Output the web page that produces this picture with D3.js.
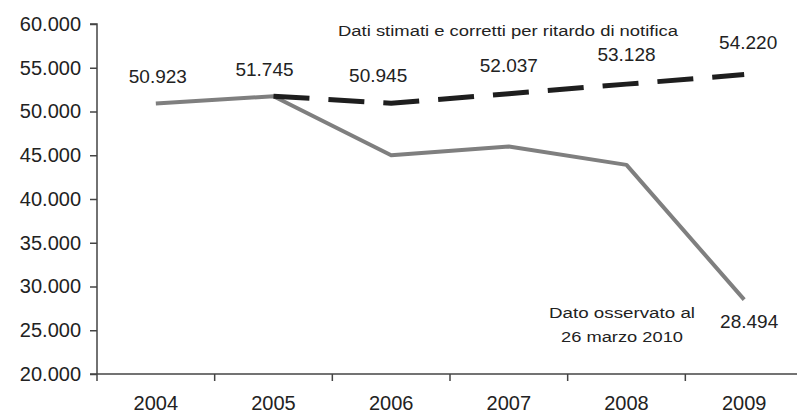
<!DOCTYPE html>
<html><head><meta charset="utf-8">
<script src="https://cdn.jsdelivr.net/npm/d3@7"></script>
<style>body{margin:0;background:#fff}svg{display:block}text{font-family:"Liberation Sans",Arial,sans-serif;fill:#222}</style>
</head><body><svg id="c" width="797" height="415"></svg>
<script>
const years = ["2004","2005","2006","2007","2008","2009"];
const observed = [50923, 51745, 45000, 46000, 43900, 28494];
const estimatedYears = ["2005","2006","2007","2008","2009"];
const estimated = [51745, 50945, 52037, 53128, 54220];
const labelValues = [50923, 51745, 50945, 52037, 53128, 54220];
const finalObservedLabel = 28494;
const yTicks = [20000,25000,30000,35000,40000,45000,50000,55000,60000];

const svg = d3.select("#c");
const x = d3.scaleBand().domain(years).range([97, 803]);
const y = d3.scaleLinear().domain([20000, 60000]).range([374, 24]);
const fmt = v => d3.format(",.0f")(v).replace(/,/g, ".");
const cx = d => x(d) + x.bandwidth()/2;

// y axis
const ya = svg.append("g").attr("transform","translate(97,0)")
  .call(d3.axisLeft(y).tickValues(yTicks).tickFormat(fmt).tickSize(7).tickPadding(9));
ya.select(".domain").attr("stroke","#444").attr("stroke-width",1.5).attr("d","M-7,24H0V374");
ya.selectAll(".tick line").attr("stroke","#444").attr("stroke-width",1.5);
ya.selectAll(".tick text").style("font-size","20px").attr("fill","#222");

// x axis
const xa = svg.append("g").attr("transform","translate(0,374)")
  .call(d3.axisBottom(x).tickSize(0).tickPadding(22));
xa.select(".domain").attr("stroke","#444").attr("stroke-width",1.5).attr("d","M90,0H797");
xa.selectAll(".tick text").style("font-size","20px").attr("fill","#222");
svg.append("g").selectAll("line").data(years).join("line")
  .attr("x1", d=>x(d)).attr("x2", d=>x(d)).attr("y1",374).attr("y2",381)
  .attr("stroke","#444").attr("stroke-width",1.5);

const line = d3.line().x(d=>cx(d[0])).y(d=>y(d[1]));
svg.append("path").datum(years.map((d,i)=>[d,observed[i]]))
  .attr("d", line).attr("fill","none").attr("stroke","#7f7f7f").attr("stroke-width",4).attr("stroke-linejoin","round");
svg.append("path").datum(estimatedYears.map((d,i)=>[d,estimated[i]]))
  .attr("d", line).attr("fill","none").attr("stroke","#1e1e1e").attr("stroke-width",5).attr("stroke-dasharray","36,19");

// value labels
const labelOffsets = [-20, -20, -21, -22, -23, -26];
svg.append("g").selectAll("text").data(labelValues).join("text")
  .attr("x",(d,i)=>cx(years[i]) + [2,-9,-13,0,0,4][i])
  .attr("y",(d,i)=>y(i===0?observed[0]:(i===1?observed[1]:estimated[i-1])) + labelOffsets[i])
  .attr("text-anchor","middle").style("font-size","19px").text(fmt);
svg.append("text").attr("x",cx("2009")+5).attr("y",328).attr("text-anchor","middle")
  .style("font-size","19px").text(fmt(finalObservedLabel));

svg.append("text").attr("x",508).attr("y",36).attr("text-anchor","middle")
  .style("font-size","14px").attr("textLength",340).attr("lengthAdjust","spacingAndGlyphs")
  .text("Dati stimati e corretti per ritardo di notifica");
svg.append("text").attr("x",622).attr("y",318).attr("text-anchor","middle")
  .style("font-size","14px").attr("textLength",146).attr("lengthAdjust","spacingAndGlyphs").text("Dato osservato al");
svg.append("text").attr("x",622).attr("y",342).attr("text-anchor","middle")
  .style("font-size","14px").attr("textLength",122).attr("lengthAdjust","spacingAndGlyphs").text("26 marzo 2010");
</script></body></html>
